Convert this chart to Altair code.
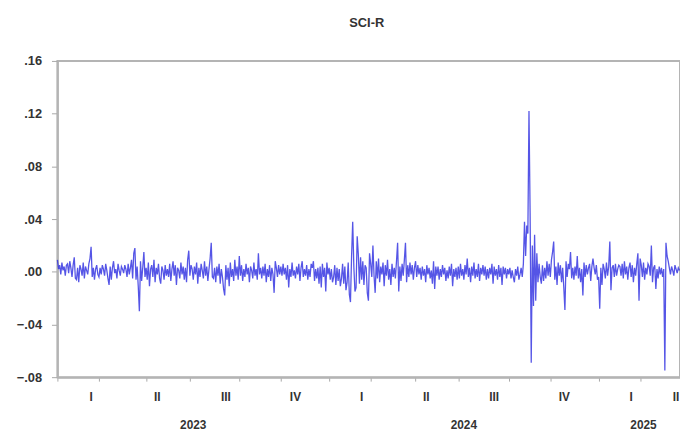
import altair as alt
import pandas as pd

# Daily returns of SCI (in percent), one list per month
ret_2023 = [
    [0.9, 0.2, 0.5, -0.2, 0.7, 0.1, 0.4, -0.3, 0.5, 0.6, -0.1, 0.8, 0.3, -0.4, 0.5, 1.1, -0.5],
    [-0.6, 0.3, -0.8, 0.5, 0.2, -0.3, 0.7, -0.5, 0.4, 0.1, -0.2, 0.6, 1.0, 1.9, -0.4, 0.3, -0.6, 0.2, 0.5, -0.2],
    [-0.4, 0.3, -0.2, 0.5, 0.2, -0.3, 0.6, 0.1, -0.5, -1.0, 0.4, -0.6, 0.3, 0.8, -0.1, 0.2, -0.5, 0.6, 0.1, -0.3, 0.4, 0.2, -0.1],
    [0.5, 0.2, -0.4, 0.6, -0.2, 0.3, 0.9, -0.5, 1.4, 1.8, -0.6, 0.4, -1.1, -3.0, 0.8, -0.7, 0.3, 1.5, -0.4],
    [0.3, -0.6, 0.7, -1.1, 0.2, 0.5, -0.4, 0.9, -0.8, 0.3, -0.2, 0.6, -0.5, -0.9, 0.4, 0.1, -0.6, 0.5, -0.3, 0.2],
    [-0.4, 0.6, -0.7, 0.2, 0.8, -0.3, 0.5, -1.0, 0.3, 0.1, -0.5, 0.7, -0.2, 0.4, -0.6, 0.3, -0.8, 0.9, 1.6],
    [-0.3, 0.5, 0.2, -0.6, 0.4, -0.2, 0.7, -0.9, 0.3, -0.4, 0.6, 0.1, -0.5, 0.8, -0.3, 0.4, -0.7, 0.2, 1.0, 2.2, -0.4],
    [-0.5, 0.3, -0.8, 0.4, -0.3, 0.6, -0.9, 0.2, -0.4, -1.3, -1.8, 0.5, -0.6, 0.3, -1.1, 0.7, -0.4, 0.2, -0.7, 0.9, -0.3, 0.4, -0.6],
    [1.2, -0.3, 0.5, -0.7, 0.2, -0.4, 0.6, -0.2, 0.3, -0.8, 0.4, 0.1, -0.5, 0.7, -0.3, 0.2, -0.6, 1.4, -0.2, 0.3],
    [-0.5, 0.4, -0.3, 0.6, -0.8, 0.2, -0.4, 0.5, -0.7, 0.3, -0.2, -1.6, 0.8, 0.3, -0.4, 0.5, -0.2],
    [0.4, -0.3, 0.6, -0.2, 0.3, -0.6, 0.5, -1.2, 0.2, -0.4, 0.7, -0.3, 0.1, -0.5, 0.4, -0.2, 0.6, -0.7, 0.3, 0.8, -0.4, 0.2],
    [-0.3, 0.5, -0.6, 0.2, -0.4, 0.6, 0.3, 0.8, -0.7, 0.2, -0.5, 0.3, -0.9, 0.4, -1.2, 0.6, -0.4, 0.3, -1.5, 0.7, -0.2],
]
ret_2024 = [
    [0.3, -0.6, 0.2, -0.8, -0.4, 0.5, -1.0, 0.3, -0.7, 0.2, -1.1, -0.5, 0.6, -0.9, 0.4, -1.4, -0.8, 0.7, -1.7, -2.3, 1.2, 3.8],
    [0.4, -1.5, -1.2, 2.7, 1.3, -0.9, 1.1, -0.6, 0.8, -1.0, 0.5, 0.3, -1.6, -2.2, 1.4],
    [0.6, -0.4, 2.0, -0.3, -1.6, 0.8, -0.5, 1.0, -0.8, 0.4, -0.2, 0.7, -1.1, 0.5, -0.3, 0.9, -0.6, 0.2, -1.0, 0.6, -0.4],
    [0.3, -0.5, 0.8, 2.2, -1.5, 0.4, -0.7, 0.6, -0.3, 0.9, 2.2, -0.8, 0.5, -0.4, 0.7, -0.2, 0.5, -0.6, 0.3],
    [0.8, -0.4, 0.5, -0.2, 0.3, -0.6, 0.4, -0.3, 0.2, -0.8, 0.5, -0.2, 0.3, -0.5, 0.1, -0.9, 0.8, -1.3, 0.4],
    [-0.3, 0.4, -0.6, 0.2, -0.4, 0.5, -0.2, 0.3, -0.7, 0.1, -0.5, 0.4, -0.3, 0.6, -1.1, 0.2, -0.4, 0.3, -0.6],
    [0.4, -0.5, 0.6, -0.3, 0.2, -0.6, 0.5, -0.2, 1.0, -0.4, 0.3, -0.8, 0.4, -0.3, 0.7, -0.5, 0.2, -0.4, 0.6, -0.7, 0.3, -0.2, 0.5],
    [-0.3, 0.4, -0.6, 0.2, -0.5, 0.3, -0.2, 0.6, -0.9, 0.4, -0.3, 0.2, -0.6, 0.5, -0.4, 0.3, -1.0, 0.4, -0.2, 0.3, -0.5, 0.2],
    [-0.2, 0.3, -0.5, 0.1, -0.4, -0.8, 0.2, -0.3, 0.4, -0.6, -0.2, 0.3, -0.4, 0.6, 3.8, 1.2, 3.5, 2.9, 12.2],
    [4.5, -6.9, 2.0, -2.6, 2.8, -2.2, 1.4, -0.8, 0.6, -0.4, -0.9, 0.5, -0.7, 0.3, -0.5, 0.8, -0.3, 0.6],
    [-0.4, 0.9, 1.5, 2.3, -0.6, 0.4, -1.0, 0.7, -0.3, 0.5, -0.8, 0.3, -1.2, -2.9, 0.8, -0.4, 0.6, 0.2, 1.5, -0.5, 0.3],
    [-0.6, 0.4, -0.3, 1.2, -0.5, 0.3, -0.8, 0.2, -1.8, 0.7, -0.4, 0.5, -0.2, 0.3, 0.6, -0.7, 0.4, 1.0, 0.3, -0.2, 0.5, -0.6],
]
ret_2025 = [
    [-0.4, -2.8, 0.3, -1.0, 0.6, 0.2, -0.5, 0.7, -0.3, 0.4, 2.3, -1.4, 0.3, 0.5, -0.4, 0.6, -0.3, 0.2, 0.5],
    [0.4, -0.3, 0.6, -0.5, 0.8, -0.2, 0.4, -0.6, 0.3, 0.7, -0.4, 0.5, -0.8, 0.3, -0.3, 0.6, 1.4, -2.2],
    [1.0, 0.5, -0.4, 0.7, -0.6, 0.3, -0.2, 0.6, 0.4, -0.3, 2.0, -0.8, 0.3, 0.5, -1.3, 0.2, -0.5, 0.4, -0.2, 0.3, -0.4],
    [0.2, -7.5, 2.2, 1.2, 0.8, 0.3, -0.2, 0.4, 0.1, -0.3, 0.5, 0.2, -0.1, 0.3, 0.1],
]
years = ["2023", "2024", "2025"]
quarter_names = ["I", "II", "III", "IV"]
y_ticks = [-0.08, -0.04, 0.0, 0.04, 0.08, 0.12, 0.16]
title_text = "SCI-R"

# ---- build tables ----
months = ret_2023 + ret_2024 + ret_2025
values = [v / 100 for m in months for v in m]
df = pd.DataFrame({"obs": list(range(len(values))), "ret": values})

# month start positions (observation index) for minor ticks
month_starts = []
pos = 0
for m in months:
    month_starts.append(pos)
    pos += len(m)
month_starts.append(pos)

x_end = 554.5          # right edge of the visible plot (in observations)
axis_end = 562         # end of the sample period on the EViews axis

# quarter labels at the middle of each quarter
q_rows = []
for k in range(0, len(month_starts) - 1, 3):
    s = month_starts[k]
    e = month_starts[k + 3] if k + 3 < len(month_starts) else axis_end
    q_rows.append({"obs": (s + min(e, axis_end)) / 2, "label": quarter_names[(k // 3) % 4]})
qdf = pd.DataFrame(q_rows)

y_rows = []
for i, yr in enumerate(years):
    s = month_starts[i * 12]
    e = month_starts[(i + 1) * 12] if (i + 1) * 12 < len(month_starts) else axis_end
    y_rows.append({"obs": (s + min(e, axis_end)) / 2, "label": yr})
ydf = pd.DataFrame(y_rows)

FONT = "Liberation Sans"
GRAY = "#b4b4b4"

xscale = alt.Scale(domain=[0, x_end], nice=False, zero=False)
yscale = alt.Scale(domain=[-0.08, 0.16], nice=False)

line = alt.Chart(df).mark_line(color="#2a2ae0", strokeWidth=1.3, opacity=0.8).encode(
    x=alt.X("obs:Q", scale=xscale,
            axis=alt.Axis(values=month_starts, labels=False, title=None, grid=False,
                          tickSize=4, tickColor="#a8a8a8", domainColor=GRAY, domainWidth=2)),
    y=alt.Y("ret:Q", scale=yscale,
            axis=alt.Axis(values=y_ticks, title=None, grid=False, tickSize=6, tickColor="#a8a8a8",
                          domainColor=GRAY, domainWidth=2, labelPadding=10,
                          labelExpr="replace(format(datum.value, '.2f'), '0.', '.')",
                          labelFont=FONT, labelFontSize=13, labelFontWeight="bold",
                          labelColor="#333333")),
)

qtext = alt.Chart(qdf).mark_text(font=FONT, fontSize=12, fontWeight="bold", color="#333333",
                                 baseline="middle").encode(
    x=alt.X("obs:Q", scale=xscale), y=alt.value(340), text="label:N")

ytext = alt.Chart(ydf).mark_text(font=FONT, fontSize=12, fontWeight="bold", color="#333333",
                                 baseline="middle").encode(
    x=alt.X("obs:Q", scale=xscale), y=alt.value(368), text="label:N")

title = alt.Chart(pd.DataFrame({"t": [title_text]})).mark_text(
    font=FONT, fontSize=13, fontWeight="bold", color="#333333", baseline="middle").encode(
    x=alt.value(313), y=alt.value(-38), text="t:N")

chart = alt.layer(line, qtext, ytext, title).properties(
    width=630, height=320,
    padding={"left": 50, "top": 51, "right": 0, "bottom": 60},
    autosize=alt.AutoSizeParams(type="none"),
).configure_view(stroke=GRAY, strokeWidth=2)

chart.save("out.html", embed_options={"renderer": "svg", "actions": False})
